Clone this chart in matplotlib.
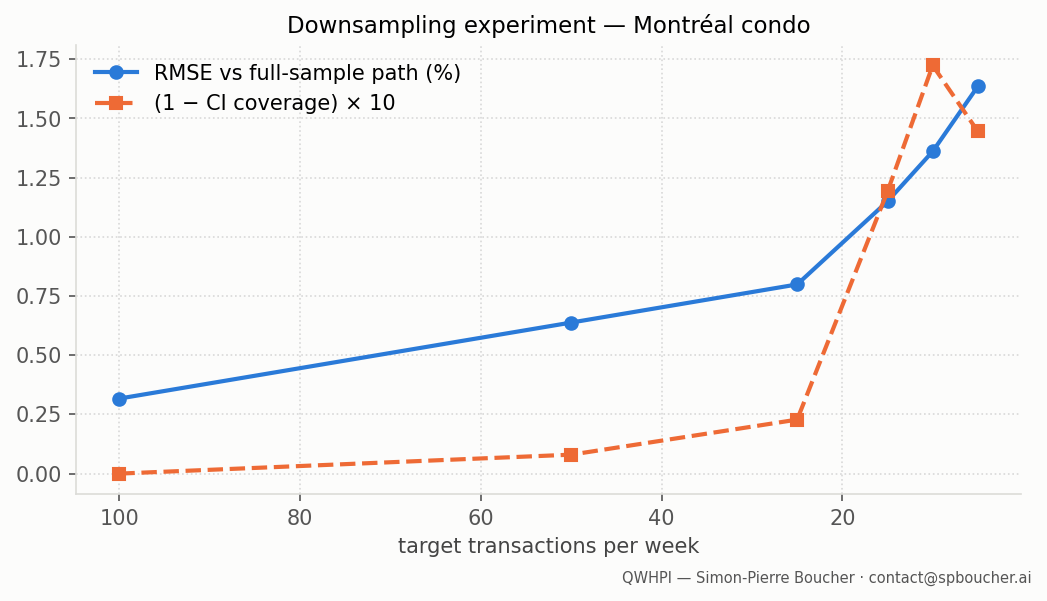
import matplotlib
matplotlib.use("Agg")
import matplotlib.pyplot as plt

# downsampling targets (transactions per week)
target = [100, 50, 25, 15, 10, 5]
rmse_pct = [0.317, 0.638, 0.799, 1.150, 1.361, 1.636]
ci_miss_x10 = [0.0, 0.080, 0.228, 1.192, 1.724, 1.445]

bg = "#fcfcfb"
fig, ax = plt.subplots(figsize=(6.98, 4.007), dpi=150)
fig.patch.set_facecolor(bg)
ax.set_facecolor(bg)

ax.plot(target, rmse_pct, "-o", color="#2a7ad8", lw=2, ms=6,
        label="RMSE vs full-sample path (%)")
ax.plot(target, ci_miss_x10, "--s", color="#ee6a35", lw=2, ms=6,
        label="(1 \u2212 CI coverage) \u00d7 10")
ax.invert_xaxis()

ax.set_title("Downsampling experiment \u2014 Montr\u00e9al condo", fontsize=11)
ax.set_xlabel("target transactions per week", fontsize=10, color="#444444")
ax.grid(True, ls=":", color="#d8d8d8", lw=0.8)
for s in ["top", "right"]:
    ax.spines[s].set_visible(False)
for s in ["left", "bottom"]:
    ax.spines[s].set_color("#dcdcd8")
ax.tick_params(colors="#555555", labelsize=10)
ax.legend(loc="upper left", frameon=False, fontsize=10)

fig.subplots_adjust(left=0.073, right=0.975, top=0.925, bottom=0.178)
fig.text(0.985, 0.025, "QWHPI \u2014 Simon-Pierre Boucher \u00b7 contact@spboucher.ai",
         ha="right", va="bottom", fontsize=7, color="#555555")
fig.savefig("out.png", facecolor=bg)
